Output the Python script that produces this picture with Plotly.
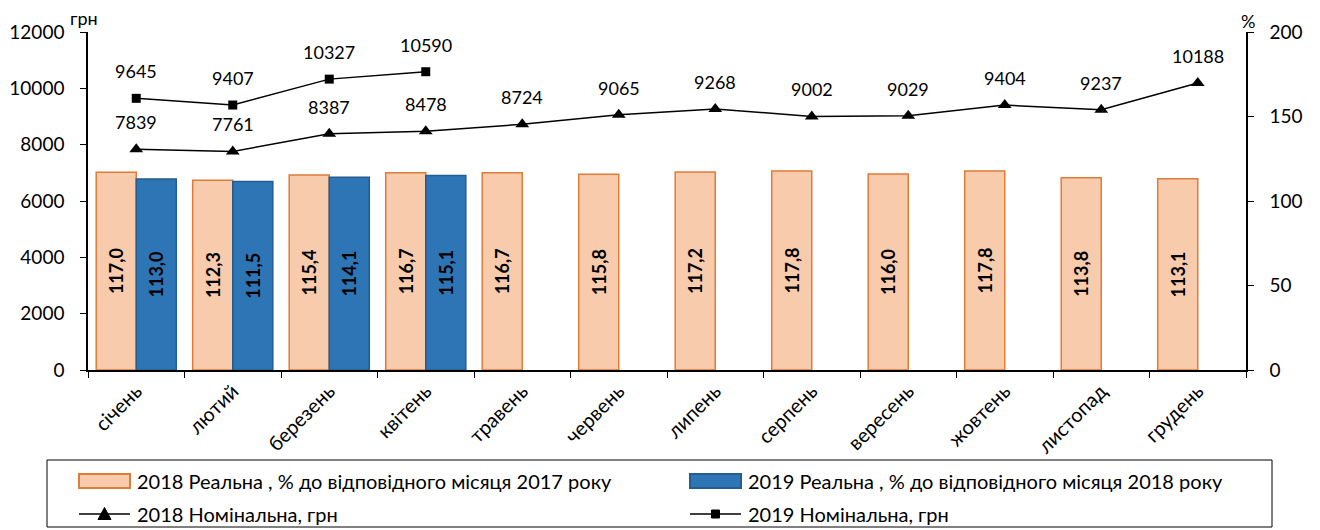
import plotly.graph_objects as go

months = ["січень", "лютий", "березень", "квітень", "травень", "червень",
          "липень", "серпень", "вересень", "жовтень", "листопад", "грудень"]
real_2018 = [117.0, 112.3, 115.4, 116.7, 116.7, 115.8, 117.2, 117.8, 116.0, 117.8, 113.8, 113.1]
real_2019 = [113.0, 111.5, 114.1, 115.1, None, None, None, None, None, None, None, None]
nom_2018 = [7839, 7761, 8387, 8478, 8724, 9065, 9268, 9002, 9029, 9404, 9237, 10188]
nom_2019 = [9645, 9407, 10327, 10590]

names = ["2018 Реальна , % до відповідного місяця 2017 року",
         "2019 Реальна , % до відповідного місяця 2018 року",
         "2018 Номінальна, грн",
         "2019 Номінальна, грн"]

FONT = "Lato, 'Open Sans', sans-serif"
C18_FILL, C18_LINE = "#F8CBAD", "#E07B39"
C19_FILL, C19_LINE = "#2E75B6", "#245C8F"

# plot area geometry (page pixels; the page has an 8px body margin)
L, T, W, H = 80, 24, 1158, 338
PX0, PY0 = 8 + L, 8 + T + H  # page px of paper (0,0)


def px(x):
    return (x - PX0) / W


def py(y):
    return (PY0 - y) / H


def fmt(v):
    return "" if v is None else f"{v:.1f}".replace(".", ",")


fig = go.Figure()
fig.add_trace(go.Bar(
    x=months, y=real_2018, name=names[0], yaxis="y2",
    marker=dict(color=C18_FILL, line=dict(color=C18_LINE, width=1.5)),
    text=[fmt(v) for v in real_2018], textposition="inside", textangle=-90,
    insidetextanchor="middle", constraintext="none",
    textfont=dict(family=FONT, size=18, color="black", weight="bold"),
))
fig.add_trace(go.Bar(
    x=months, y=real_2019, name=names[1], yaxis="y2",
    marker=dict(color=C19_FILL, line=dict(color=C19_LINE, width=1.5)),
    text=[fmt(v) for v in real_2019], textposition="inside", textangle=-90,
    insidetextanchor="middle", constraintext="none",
    textfont=dict(family=FONT, size=18, color="black", weight="bold"),
))
fig.add_trace(go.Scatter(
    x=months, y=nom_2018, name=names[2], mode="lines+markers",
    line=dict(color="black", width=1.5),
    marker=dict(symbol="triangle-up", size=12, color="black"),
))
fig.add_trace(go.Scatter(
    x=months[:len(nom_2019)], y=nom_2019, name=names[3], mode="lines+markers",
    line=dict(color="black", width=1.5),
    marker=dict(symbol="square", size=9, color="black"),
))

annotations = []
for m, v in zip(months, nom_2018):
    annotations.append(dict(x=m, y=v, xref="x", yref="y", text=str(v), showarrow=False,
                            yshift=27, font=dict(family=FONT, size=18, color="black")))
for m, v in zip(months, nom_2019):
    annotations.append(dict(x=m, y=v, xref="x", yref="y", text=str(v), showarrow=False,
                            yshift=27, font=dict(family=FONT, size=18, color="black")))
annotations.append(dict(x=0, y=1.0, xref="paper", yref="paper", text="грн", showarrow=False,
                        xanchor="left", yanchor="bottom", xshift=-20, yshift=1,
                        font=dict(family=FONT, size=18, color="black")))
annotations.append(dict(x=1, y=1.0, xref="paper", yref="paper", text="%", showarrow=False,
                        xanchor="center", yanchor="bottom", xshift=2, yshift=-2,
                        font=dict(family=FONT, size=18, color="black")))

# ---- manual legend (Excel-like) ----
shapes = []
LEG_X0, LEG_X1, LEG_Y0, LEG_Y1 = 47, 1272, 460, 527
ROW_Y = [481, 514]
COL_X = [79, 690]
SW = 51
TEXT_X_OFF = 56
shapes.append(dict(type="rect", xref="paper", yref="paper",
                   x0=px(LEG_X0), x1=px(LEG_X1), y0=py(LEG_Y1), y1=py(LEG_Y0),
                   line=dict(color="black", width=1), fillcolor="white", layer="above"))
for cx, fill, ln in [(COL_X[0], C18_FILL, C18_LINE), (COL_X[1], C19_FILL, C19_LINE)]:
    shapes.append(dict(type="rect", xref="paper", yref="paper",
                       x0=px(cx), x1=px(cx + SW), y0=py(ROW_Y[0] + 7), y1=py(ROW_Y[0] - 7),
                       line=dict(color=ln, width=2), fillcolor=fill, layer="above"))
for i, cx in enumerate(COL_X):
    shapes.append(dict(type="line", xref="paper", yref="paper",
                       x0=px(cx), x1=px(cx + SW), y0=py(ROW_Y[1]), y1=py(ROW_Y[1]),
                       line=dict(color="black", width=1.5), layer="above"))
mx, my = COL_X[0] + SW / 2, ROW_Y[1]
shapes.append(dict(type="path", xref="paper", yref="paper",
                   path=f"M {px(mx - 6.5)} {py(my + 5.5)} L {px(mx + 6.5)} {py(my + 5.5)} "
                        f"L {px(mx)} {py(my - 6.5)} Z",
                   fillcolor="black", line=dict(color="black", width=1), layer="above"))
mx = COL_X[1] + SW / 2
shapes.append(dict(type="rect", xref="paper", yref="paper",
                   x0=px(mx - 4), x1=px(mx + 4), y0=py(my + 4), y1=py(my - 4),
                   fillcolor="black", line=dict(color="black", width=1), layer="above"))
legend_pos = [(COL_X[0], ROW_Y[0]), (COL_X[1], ROW_Y[0]), (COL_X[0], ROW_Y[1]), (COL_X[1], ROW_Y[1])]
for name, (cx, ry) in zip(names, legend_pos):
    annotations.append(dict(x=px(cx + TEXT_X_OFF), y=py(ry), xref="paper", yref="paper",
                            text=name, showarrow=False, xanchor="left", yanchor="middle",
                            font=dict(family=FONT, size=20, color="black")))

fig.update_layout(
    width=1320, height=530,
    margin=dict(l=L, r=1320 - L - W, t=T, b=530 - T - H, autoexpand=False),
    paper_bgcolor="white", plot_bgcolor="white",
    font=dict(family=FONT, size=18, color="black"),
    barmode="group", bargap=0.17, bargroupgap=0,
    showlegend=False,
    xaxis=dict(type="category", range=[-0.5, len(months) - 0.5], showline=True,
               linecolor="black", linewidth=1.5,
               ticks="outside", tickson="boundaries", ticklen=6, tickcolor="black",
               tickangle=-45, tickfont=dict(family=FONT, size=20), showgrid=False),
    yaxis=dict(range=[0, 12000], dtick=2000, showline=True, linecolor="black", linewidth=1.5,
               ticks="outside", ticklen=6, tickcolor="black", showgrid=False, zeroline=False,
               tickfont=dict(family=FONT, size=19), tickformat="d", ticklabelstandoff=12),
    yaxis2=dict(range=[0, 200], dtick=50, overlaying="y", side="right", showline=True,
                linecolor="black", linewidth=1.5, ticks="outside", ticklen=6, tickcolor="black",
                showgrid=False, zeroline=False, tickfont=dict(family=FONT, size=19),
                ticklabelstandoff=12),
    annotations=annotations,
    shapes=shapes,
)

fig.write_html("out.html")
